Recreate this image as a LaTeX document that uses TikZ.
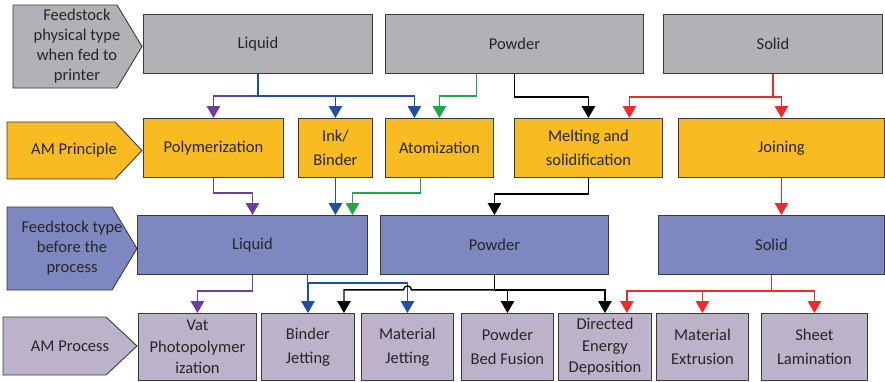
\documentclass[tikz,border=0pt]{standalone}
\usepackage{fontspec}
\setmainfont{Carlito}
\usetikzlibrary{arrows.meta}

\definecolor{rowgray}{HTML}{B1B2B5}
\definecolor{roworange}{HTML}{F8BC22}
\definecolor{rowblue}{HTML}{7E88C0}
\definecolor{rowlilac}{HTML}{BCB3CA}
\definecolor{linepurple}{HTML}{6B3FA0}
\definecolor{lineblue}{HTML}{1F4EA5}
\definecolor{linegreen}{HTML}{1DA84A}
\definecolor{linered}{HTML}{EE2B2B}
\definecolor{edgegray}{HTML}{3A3A3A}

\begin{document}
\begin{tikzpicture}[x=1pt, y=-1pt,
	every node/.style={font=\fontsize{16.5}{21.5}\selectfont, text=black!85},
	box/.style={draw=edgegray, line width=0.9pt, anchor=north west, inner sep=0pt, align=center},
	pair/.style={font=\fontsize{16.5}{23.5}\selectfont},
	tag/.style={draw=edgegray, line width=0.9pt},
	tagtext/.style={align=center, font=\fontsize{16.5}{20}\selectfont},
	feed/.style={-{Triangle[width=13.5pt,length=12pt]}, line width=1.4pt}]
	\useasboundingbox (0,0) rectangle (885,381);

	% row labels
	\draw[tag, fill=rowgray] (13,5) -- (117,5) -- (142,46.5) -- (117,88) -- (13,88) -- cycle;
	\node[tagtext] (tag1) at (77,46.5) {Feedstock\\physical type\\when fed to\\printer};
	\draw[tag, fill=roworange] (7,122) -- (115,122) -- (142,150.5) -- (115,179) -- (7,179) -- cycle;
	\node[tagtext] (tag2) at (74,150.5) {AM Principle};
	\draw[tag, fill=rowblue] (7,207) -- (112,207) -- (137,248.5) -- (112,290) -- (7,290) -- cycle;
	\node[tagtext] (tag3) at (72,248.5) {Feedstock type\\before the\\process};
	\draw[tag, fill=rowlilac] (3,317) -- (106,317) -- (137,346) -- (106,375) -- (3,375) -- cycle;
	\node[tagtext] (tag4) at (70,346) {AM Process};

	% feedstock when fed
	\node[box, fill=rowgray, minimum width=229pt, minimum height=59pt] (liq1) at (143,14) {Liquid};
	\node[box, fill=rowgray, minimum width=258pt, minimum height=59pt] (pow1) at (385,14) {Powder};
	\node[box, fill=rowgray, minimum width=219pt, minimum height=59pt] (sol1) at (663,14) {Solid};

	% principles
	\node[box, fill=roworange, minimum width=140pt, minimum height=59pt] (poly) at (143,118) {Polymerization};
	\node[box, pair, fill=roworange, minimum width=74pt, minimum height=59pt] (ink) at (298,118) {Ink/\\Binder};
	\node[box, fill=roworange, minimum width=108pt, minimum height=59pt] (atom) at (385,118) {Atomization};
	\node[box, pair, fill=roworange, minimum width=148pt, minimum height=59pt] (melt) at (514,118) {Melting and\\solidification};
	\node[box, fill=roworange, minimum width=206pt, minimum height=59pt] (join) at (678,118) {Joining};

	% feedstock before the process
	\node[box, fill=rowblue, minimum width=230pt, minimum height=59pt] (liq2) at (137,215) {Liquid};
	\node[box, fill=rowblue, minimum width=228pt, minimum height=59pt] (pow2) at (380,215) {Powder};
	\node[box, fill=rowblue, minimum width=226pt, minimum height=59pt] (sol2) at (658,215) {Solid};

	% processes
	\node[box, fill=rowlilac, minimum width=118pt, minimum height=67pt] (vat) at (138,313) {Vat\\Photopolymer\\ization};
	\node[box, pair, fill=rowlilac, minimum width=93pt, minimum height=67pt] (bj) at (261,313) {Binder\\Jetting};
	\node[box, pair, fill=rowlilac, minimum width=92pt, minimum height=67pt] (mj) at (361,313) {Material\\Jetting};
	\node[box, pair, fill=rowlilac, minimum width=92pt, minimum height=67pt] (pbf) at (461,313) {Powder\\Bed Fusion};
	\node[box, fill=rowlilac, minimum width=93pt, minimum height=67pt] (ded) at (558,313) {Directed\\Energy\\Deposition};
	\node[box, pair, fill=rowlilac, minimum width=92pt, minimum height=67pt] (mex) at (656,313) {Material\\Extrusion};
	\node[box, pair, fill=rowlilac, minimum width=106pt, minimum height=67pt] (shl) at (761,313) {Sheet\\Lamination};

	% fed -> principle
	\draw[feed, linepurple] (liq1.south) ++(0,22) coordinate (liqfork) -| (poly.north);
	\draw[feed, lineblue] (liq1.south) -- (liqfork) -| ([xshift=-25pt]atom.north);
	\draw[feed, lineblue] (liqfork -| ink.north) -- (ink.north);
	\draw[feed, linegreen] ([xshift=-38pt]pow1.south) -- ++(0,22) -| (atom.north);
	\draw[feed] (pow1.south) -- ++(0,23) -| (melt.north);
	\draw[feed, linered] (sol1.south) -- ++(0,23) coordinate (solfork) -| ([xshift=41pt]melt.north);
	\draw[feed, linered] (solfork) -| (join.north);

	% principle -> before process
	\draw[feed, linepurple] (poly.south) -- ++(0,15) -| (liq2.north);
	\draw[feed, lineblue] (ink.south) -- (ink.south |- liq2.north);
	\draw[feed, linegreen] ([xshift=-19pt]atom.south) -- ++(0,15) -| ([xshift=100pt]liq2.north);
	\draw[feed] (melt.south) -- ++(0,16) -| (pow2.north);
	\draw[feed, linered] (join.south) -- (join.south |- sol2.north);

	% before process -> process
	\draw[feed, linepurple] (liq2.south) -- ++(0,16) -| (vat.north);
	\draw[feed, lineblue] ([xshift=55pt]liq2.south) -- ++(0,8) coordinate (jetfork) -| (mj.north);
	\draw[feed, lineblue] (jetfork) -- (jetfork -| bj.north) -- (bj.north);
	\draw[feed] (pow2.south) -- ++(0,15) coordinate (powfork) -| (ded.north);
	\draw[feed] (powfork -| pbf.north) -- (pbf.north);
	\draw[feed] (powfork) -- ([xshift=4pt]powfork -| mj.north)
		arc[start angle=0, end angle=-180, radius=4] -| ([xshift=36pt]bj.north);
	\draw[feed, linered] (sol2.south) -- ++(0,16) coordinate (solfork2) -| ([xshift=22pt]ded.north);
	\draw[feed, linered] (solfork2) -| (shl.north);
	\draw[feed, linered] (solfork2 -| mex.north) -- (mex.north);
\end{tikzpicture}
\end{document}
